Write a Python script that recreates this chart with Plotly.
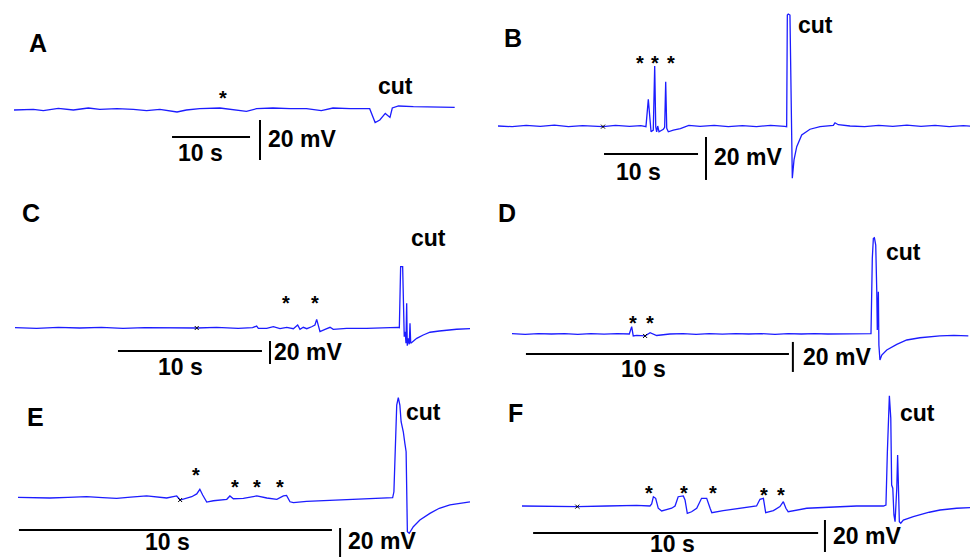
import plotly.graph_objects as go

# page is drawn with an 8 px body margin, so the figure is offset by that
OFF = 8
W, H = 970, 550
BLUE = '#1c1cff'
FONT = 'Liberation Sans, Arial, sans-serif'

# ---- recorded membrane potential traces (time in s, potential in mV rel. to rest) ----
a_t = [0, 2.48, 3.76, 5.68, 7.61, 9.53, 11.0, 13.2, 15.3, 17.0, 18.7, 20.9, 22.1, 23.8,
       26.4, 28.1, 29.8, 31.1, 33.2, 35.4, 37.5, 39.4, 40.9, 43.1, 45.6, 46.3, 46.9, 47.6,
       48.2, 48.5, 49.3, 51.2, 52.9, 54.6, 56.5]
a_v = [-0.5, -0.17, -0.83, 0.33, -0.5, 0.5, -0.17, 0.17, -0.17, -0.83, -0.17, -1.5, -0.5, 0.17,
       0.5, -0.17, -1.17, 0.17, 0.5, 0.17, 0.17, -0.83, 0.5, 0.17, 0.17, -6.8, -5.5, -2.2,
       -4.2, 0.5, 1.5, 1.17, 1.17, 0.83, 0.83]

b_t = [0, 1.5, 3, 4.5, 6, 7.5, 9, 10.5, 11.17, 12.5, 14, 15.2, 15.74, 15.99, 16.17, 16.28,
       16.52, 16.67, 16.78, 16.88, 16.99, 17.13, 17.59, 17.73, 17.84, 17.95, 18.12, 18.65,
       19.4, 20.3, 21.5, 23, 24.5, 26, 27.5, 29, 30.5, 30.71, 30.78, 30.88, 31.06, 31.17,
       31.24, 31.31, 31.49, 31.78, 32.31, 33.19, 34.26, 35.67, 35.85, 36.2, 37.45, 39, 40.5,
       42, 43.5, 45, 46.5, 48, 49.5, 50.7]
b_v = [0, -0.3, 0.3, -0.2, 0.4, -0.3, 0.2, -0.2, -0.3, 0.3, -0.2, 0.2, -0.3, 12.4, -0.3, -2.7,
       -1.9, 27.9, -0.3, -2.7, 0, -2.7, -1.5, -0.6, 20.6, -1.1, -2.7, -1.9,
       -1.2, 0.3, -0.2, 0.3, -0.3, 0.2, -0.3, 0.3, -0.2, -0.3, 51.6, 52.1, 51.6, 12.1,
       -23.6, -24.3, -15.8, -9.6, -4.2, -1.5, -0.3, 0.3, 1.5, 0.6, 0, -0.3, 0.3,
       -0.2, 0.4, -0.2, 0.3, -0.3, 0.2, -0.2]

c_t = [0, 1.5, 3, 4.5, 6, 7.5, 9, 10.5, 12, 12.62, 14, 15.5, 16.5, 16.78, 16.9, 17.48, 17.94,
       18.4, 18.87, 19.33, 19.63, 19.79, 20.02, 20.26, 20.6, 20.83, 20.95, 21.06, 21.18,
       21.53, 21.88, 22.1, 23.03, 24.42, 25.5, 26.6, 26.69, 26.78, 26.92, 26.97, 27.03, 27.1,
       27.15, 27.2, 27.24, 27.31, 27.38, 27.43, 27.48, 27.57, 27.9, 28.35, 28.82, 29.47,
       30.67, 31.6]
c_v = [0.3, -0.3, 0.6, 0, 0.6, -0.3, 0.3, 0, 0.3, 0, 0.6, -0.3, 0.3, 1.7, -0.3, -0.3, 1.1,
       -0.6, 0.6, -0.6, 2.6, -1.2, 0.6, -0.6, 1.1, 2.6, 7.5, 1.1, -3.2,
       -1.2, 0.6, -1.2, -0.3, -0.3, 0.3, 0.6, 0.3, 53.3, 53.3, 1.1, -7.6, -3.2,
       -13.3, 21.5, -15.4, -9.0, -14.2, 4.1, -13.3, -12.4, -9.0, -6.1, -3.7, -2.6,
       -1.1, -0.6]

d_t = [0, 0.5, 1, 1.5, 2, 2.5, 3, 3.5, 4, 4.46, 4.55, 4.61, 4.74, 5.06, 5.25, 5.37, 5.5, 6,
       6.5, 7, 7.5, 8, 8.5, 9, 9.5, 10, 10.5, 11, 11.5, 12, 12.5, 13, 13.65, 13.7, 13.74,
       13.78, 13.83, 13.87, 13.89, 13.93, 13.95, 13.99, 14.06, 14.25, 14.63, 15.01, 15.51,
       16.27, 16.8, 17.35]
d_v = [0.2, -0.2, 0.3, 0, 0.3, -0.2, 0.2, -0.1, 0.2, 0, 4.9, -1.3, -0.9, -1.3, 0.9, 0, -1.0, 0,
       0.3, -0.2, 0.2, -0.1, 0.3, 0, 0.2, -0.2, 0.2, 0, 0.3, 0, 0.2, 0.3, 0.3, 50.5, 63.8,
       64.2, 59.3, 28.2, 2.7, 28.2, -7.3, -17.3, -14.0, -10.7, -6.9, -4.0, -2.5,
       -1.3, -0.9, -1.3]

e_t = [0, 0.5, 1.02, 1.6, 2.19, 2.7, 3.15, 3.6, 4.11, 4.75, 5.07, 5.18, 5.39, 5.55, 5.71, 5.81,
       5.9, 6.03, 6.24, 6.67, 6.77, 6.88, 7.2, 7.63, 7.95, 8.27, 8.48, 8.58, 8.69, 8.8, 9.22,
       10.07, 10.6, 11.14, 11.5, 11.88, 11.97, 12.01, 12.07, 12.1, 12.15, 12.2, 12.24, 12.31,
       12.36, 12.4, 12.44, 12.5, 12.63, 12.84, 13.16, 13.46, 13.8, 14.44]
e_v = [0.5, 0.2, 0, 0.5, 0.9, 0.2, -0.2, 0.6, 1.4, 0, 1.4, -1.4, -0.2, 0.9, 2.8, 6.0,
       2.1, -2.8, -1.9, -0.9, 1.4, -0.5, -0.2, 1.4, 0, -0.9, 1.4, 1.8, -2.6, -3.2, -2.3,
       -1.4, -0.8, -0.2, 0.2, 0.5, 0.2, 4.3, 50.3, 64.1, 69.2, 64.1, 52.6, 45.7,
       37.7, 31.9, -23.2, -24.3, -19.8, -15.2, -10.6, -7.1, -4.8, -2.6]

f_t = [0, 0.98, 1.94, 2.97, 4.02, 4.49, 4.55, 4.61, 4.69, 4.78, 4.9, 5.25, 5.37, 5.48, 5.66,
       5.72, 5.8, 5.95, 6.13, 6.3, 6.48, 6.6, 6.66, 7.06, 7.76, 8.23, 8.35, 8.47, 8.55, 8.82,
       9.05, 9.17, 9.26, 9.34, 9.99, 11.16, 11.74, 12.68, 12.77, 12.82, 12.87, 12.89, 12.94,
       12.97, 13.01, 13.05, 13.09, 13.15, 13.18, 13.2, 13.24, 13.29, 13.38, 13.73, 14.29,
       14.67, 15.25, 16.01]
f_v = [0, -0.4, -0.4, 0, 0.4, 0, 1.3, 5.8, 4.8, -1.4, -3.1, -1.4, 0, 5.8, 6.3,
       3.8, -4.6, -3.6, -1.4, 4.8, 4.8, -1.4, -4.2, -2.9, -1.4, 0, 4.2, 4.8, -4.2, -2.9,
       -0.4, 2.7, -1.4, -3.6, -1.4, -0.4, 0, 0, 0.6, 33.9, 68.3, 68.9, 54.8,
       13.1, 11.1, -5.6, -9.8, 11.1, 31.9, 13.1, -9.8, -10.8, -8.8, -6.7, -3.9,
       -2.5, -1.4, -0.8]

# small cursor marks on the baselines (s, mV)
mark_t = {'B': 11.17, 'C': 12.62, 'D': 5.06, 'E': 5.18, 'F': 1.94}
mark_v = {'B': -0.3, 'C': 0.0, 'D': -1.3, 'E': -1.4, 'F': -0.4}

traces = {'A': (a_t, a_v), 'B': (b_t, b_v), 'C': (c_t, c_v),
          'D': (d_t, d_v), 'E': (e_t, e_v), 'F': (f_t, f_v)}

# panel placement: page pixel of t=0 / 0 mV and the pixel scale of each panel
geom = {
    'A': dict(x0=14, y0=109, pps=7.8, ppm=2.0),
    'B': dict(x0=498, y0=126, pps=9.4, ppm=2.15),
    'C': dict(x0=15, y0=328, pps=14.4, ppm=1.15),
    'D': dict(x0=512, y0=334, pps=26.3, ppm=1.5),
    'E': dict(x0=18, y0=498, pps=31.3, ppm=1.45),
    'F': dict(x0=522, y0=506, pps=28.5, ppm=1.6),
}
# scale bar anchors: (time start, mV level of 10 s bar, time of 20 mV bar, top of 20 mV bar)
bars = {
    'A': (20.26, -14.0, 31.54, -5.5),
    'B': (11.28, -13.0, 22.13, -5.1),
    'C': (7.15, -20.0, 17.71, -11.3),
    'D': (0.53, -13.3, 10.68, -5.3),
    'E': (0.03, -22.1, 10.29, -20.7),
    'F': (0.39, -16.9, 10.63, -8.75),
}

# text positions in page pixels
letter_pos = {'A': (38, 43), 'B': (513, 38), 'C': (31, 213), 'D': (507, 213),
              'E': (35, 417), 'F': (515, 413)}
cut_pos = {'A': (395, 86), 'B': (815, 25), 'C': (428, 238), 'D': (903, 252),
           'E': (423, 412), 'F': (917, 413)}
star_pos = {'A': [(223, 92)],
            'B': [(640, 57), (655, 57), (671, 57)],
            'C': [(286, 297), (315, 297)],
            'D': [(633, 317), (650, 317)],
            'E': [(196, 469), (235, 481), (257, 481), (280, 481)],
            'F': [(649, 487), (684, 487), (713, 487), (764, 489), (781, 489)]}
sec_pos = {'A': (200, 153), 'B': (638, 172), 'C': (180, 367), 'D': (643, 369),
           'E': (167, 542), 'F': (672, 544)}
mv_pos = {'A': (266, 139), 'B': (712, 157), 'C': (272, 352), 'D': (801, 357),
          'E': (346, 541), 'F': (831, 536)}


def px(x, y):
    return (x - OFF) / W, 1 - (y - OFF) / H


fig = go.Figure()
layout = {}
annotations = []
for i, key in enumerate(['A', 'B', 'C', 'D', 'E', 'F'], start=1):
    g = geom[key]
    xa, ya = f'x{i}', f'y{i}'
    suffix = '' if i == 1 else str(i)
    layout['xaxis' + suffix] = dict(range=[(OFF - g['x0']) / g['pps'], (OFF + W - g['x0']) / g['pps']],
                                    domain=[0, 1], anchor=ya, visible=False, fixedrange=True)
    layout['yaxis' + suffix] = dict(range=[(g['y0'] - OFF - H) / g['ppm'], (g['y0'] - OFF) / g['ppm']],
                                    domain=[0, 1], anchor=xa, visible=False, fixedrange=True)
    t, v = traces[key]
    fig.add_trace(go.Scatter(x=t, y=v, mode='lines', xaxis=xa, yaxis=ya,
                             line=dict(color=BLUE, width=1.3), hoverinfo='skip'))
    if key in mark_t:
        fig.add_trace(go.Scatter(x=[mark_t[key]], y=[mark_v[key]], mode='markers',
                                 xaxis=xa, yaxis=ya,
                                 marker=dict(symbol='x-thin', size=4, color='black',
                                             line=dict(width=1, color='black'))))
    s0, sv, vt, vtop = bars[key]
    fig.add_trace(go.Scatter(x=[s0, s0 + 10], y=[sv, sv], mode='lines', xaxis=xa, yaxis=ya,
                             line=dict(color='black', width=2)))
    fig.add_trace(go.Scatter(x=[vt, vt], y=[vtop, vtop - 20], mode='lines', xaxis=xa, yaxis=ya,
                             line=dict(color='black', width=2)))

    bold = dict(family=FONT, size=23, color='black', weight='bold')
    x, y = px(*letter_pos[key])
    annotations.append(dict(x=x, y=y, text=key,
                            font=dict(family=FONT, size=25, color='black', weight='bold')))
    x, y = px(*cut_pos[key])
    annotations.append(dict(x=x, y=y, text='cut', font=bold))
    x, y = px(*sec_pos[key])
    annotations.append(dict(x=x, y=y, text='10 s', font=bold))
    x, y = px(*mv_pos[key])
    annotations.append(dict(x=x, y=y, text='20 mV', xanchor='left', font=bold))
    for sx, sy in star_pos[key]:
        x, y = px(sx, sy + 6)
        annotations.append(dict(x=x, y=y, text='*',
                                font=dict(family=FONT, size=20, color='black', weight='bold')))

for a in annotations:
    a.setdefault('xanchor', 'center')
    a.update(xref='paper', yref='paper', yanchor='middle', showarrow=False)

fig.update_layout(
    width=W, height=H,
    margin=dict(l=0, r=0, t=0, b=0),
    plot_bgcolor='rgba(0,0,0,0)', paper_bgcolor='white',
    showlegend=False,
    annotations=annotations,
    **layout
)
fig.write_html("out.html")
